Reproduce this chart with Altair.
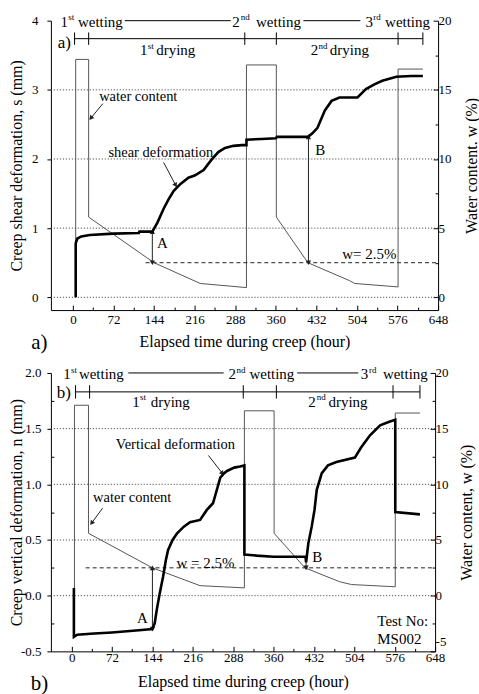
import altair as alt
import pandas as pd

FONT = "Liberation Serif"

# ---------------- panel a: shear deformation (mm) ----------------
TA_S = [5, 5, 8, 15, 30, 72, 117, 118, 141, 150, 161, 170, 179, 191, 205, 216, 232, 245, 258, 270,
        285, 300, 308, 308, 335, 360, 362, 417, 425, 434, 447, 459, 473, 505, 520, 535, 549, 574, 600, 621]
SA = [0, 0.78, 0.85, 0.88, 0.9, 0.92, 0.93, 0.95, 0.95, 1.08, 1.28, 1.42, 1.54, 1.64, 1.73, 1.76, 1.84, 1.98, 2.1, 2.16,
      2.19, 2.2, 2.2, 2.28, 2.29, 2.3, 2.32, 2.32, 2.37, 2.45, 2.7, 2.84, 2.89, 2.89, 3.01, 3.08, 3.13, 3.19, 3.2, 3.2]
# panel a: water content (%)
TA_W = [5, 5, 28, 28, 144, 226, 308, 308, 361, 361, 417, 491, 500, 577, 577, 621]
WA = [0, 17.2, 17.2, 5.8, 2.5, 1.0, 0.7, 16.8, 16.8, 5.8, 2.5, 1.2, 1.0, 0.75, 16.5, 16.5]

# ---------------- panel b: vertical deformation (mm) ----------------
TB_N = [4, 4, 10, 40, 72, 120, 144, 148, 152, 157, 163, 168, 172, 180, 188, 200, 211, 229, 241, 252,
        260, 265, 272, 277, 290, 300, 308, 308, 330, 360, 417, 418, 422, 428, 433, 437, 446, 457, 472, 505,
        516, 532, 550, 565, 577, 577, 621]
NB = [0.07, -0.37, -0.35, -0.34, -0.33, -0.31, -0.30, -0.25, -0.12, 0.02, 0.17, 0.32, 0.41, 0.5, 0.56, 0.62, 0.66, 0.68, 0.77, 0.83,
      0.97, 1.06, 1.1, 1.12, 1.15, 1.16, 1.17, 0.37, 0.36, 0.35, 0.35, 0.3, 0.47, 0.62, 0.77, 0.95, 1.1, 1.17, 1.2, 1.24,
      1.33, 1.44, 1.53, 1.56, 1.58, 0.75, 0.73]
TB_W = [5, 5, 30, 30, 144, 229, 308, 308, 361, 361, 416, 478, 499, 577, 577, 621]
WB = [0, 17.1, 17.1, 5.6, 2.5, 0.9, 0.7, 16.6, 16.6, 5.6, 2.5, 1.25, 1.0, 0.8, 16.4, 16.4]

# ---------------- ticks / reference lines ----------------
X_TICKS = list(range(0, 649, 36))
YA_TICKS = [i * 0.5 for i in range(9)]
YA_R_TICKS = [i * 2.5 for i in range(9)]
YB_TICKS = [-0.5 + i * 0.25 for i in range(11)]
YB_R_TICKS = [-5 + i * 2.5 for i in range(11)]
GRID_A = [0, 1, 2, 3]
GRID_B = [0, 0.5, 1.0, 1.5]

# ---------------- annotations panel a ----------------
TOP_A_T = [-22, 9, 283, 325, 519, 554]
TOP_TXT = ["1", "wetting", "2", "wetting", "3", "wetting"]
TOP_A_V = 3.985
SUP_A_T = [-8, 298, 533]
SUP_TXT = ["st", "nd", "rd"]
SUP_A_V = 4.05
TOPLINE_A_T = [92, 409]
TOPLINE_A_T2 = [280, 510]
TOPLINE_A_V = 4.0
DRY_A_LINE = [3, 621]
DRY_A_V = 3.74
DRY_A_TICKS = [3, 28, 305, 361, 577, 621]
DRY_A_TICK_V = [3.65, 3.83]
DRY_A_T = [119, 148, 422, 456]
DRY_TXT = ["1", "drying", "2", "drying"]
DRY_A_TV = 3.58
DRY_SUP_A_T = [133, 436]
DRY_SUP_TXT = ["st", "nd"]
DRY_SUP_A_V = 3.64
NOTE_A_T = [116, 156]
NOTE_A_V = [2.90, 2.08]
NOTE_A_TXT = ["water content", "shear deformation"]
AB_A_T = [159, 439, 526]
AB_A_V = [0.78, 2.13, 0.63]
AB_A_TXT = ["A", "B", "w= 2.5%"]
ARR_A_T = [53.1, 161, 141, 418]
ARR_A_T2 = [31.9, 182.4, 141, 418]
ARR_A_V = [2.80, 1.95, 0.5, 0.5]
ARR_A_V2 = [2.59, 1.62, 0.95, 2.32]
HEAD_A_T = [31.9, 182.4, 141, 141, 418, 418]
HEAD_A_V = [2.59, 1.62, 0.95, 0.5, 2.32, 0.5]
HEAD_A_ANG = [219, 152, 0, 180, 0, 180]
DASH_A = [129, 648]
DASH_A_V = 0.5
LAB_A_IN = (-27, 3.68)
LAB_A_OUT = (-74, -0.66)

# ---------------- annotations panel b ----------------
TOP_B_T = [-15, 13, 279.5, 317, 515.5, 555]
TOP_B_V = 1.99
SUP_B_T = [-1, 294, 530]
SUP_B_V = 2.03
TOPLINE_B_T = [101, 402]
TOPLINE_B_T2 = [271, 511]
TOPLINE_B_V = 2.0
DRY_B_LINE = [7, 621]
DRY_B_V = 1.83
DRY_B_TICKS = [7, 32, 306, 365, 573, 621]
DRY_B_TICK_V = [1.77, 1.89]
DRY_B_T = [108, 141, 422, 458]
DRY_B_TV = 1.74
DRY_SUP_B_T = [122, 437]
DRY_SUP_B_V = 1.78
NOTE_B_T = [185, 108]
NOTE_B_V = [1.35, 0.88]
NOTE_B_TXT = ["Vertical deformation", "water content"]
AB_B_T = [126, 438, 238.5]
AB_B_V = [-0.2, 0.35, 0.29]
AB_B_TXT = ["A", "B", "w = 2.5%"]
TEST_T = [545, 545]
TEST_V = [-0.23, -0.39]
TEST_TXT = ["Test No:", "MS002"]
ARR_B_T = [55.2, 243.9, 144, 418]
ARR_B_T2 = [35.6, 268.8, 144, 418]
ARR_B_V = [0.786, 1.259, 0.25, 0.35]
ARR_B_V2 = [0.652, 1.098, -0.3, 0.25]
HEAD_B_T = [35.6, 268.8, 144, 144, 418]
HEAD_B_V = [0.652, 1.098, 0.25, -0.3, 0.25]
HEAD_B_ANG = [216, 142, 0, 180, 180]
DASH_B = [25, 648]
DASH_B_V = 0.25
LAB_B_IN = (-26.7, 1.82)
LAB_B_OUT = (-73, -0.79)

XTITLE = "Elapsed time during creep (hour)"


def build(c):
    xs = alt.Scale(domain=c["xdom"], nice=False, zero=False)
    xax = alt.Axis(values=X_TICKS, labelExpr="datum.value % 72 === 0 ? datum.label : ''",
                   tickSize={"condition": {"test": "datum.value % 72 === 0", "value": -5}, "value": -3},
                   labelOverlap=False, labelFlush=False, grid=False, title=XTITLE,
                   titlePadding=c["xtp"], labelPadding=c["xlp"])

    def X(f):
        return alt.X(f, type="quantitative", scale=xs, axis=xax)

    ys = alt.Scale(domain=c["ydom"], nice=False, zero=False)
    lt = c["ltest"]
    yax = alt.Axis(orient="left", values=c["yticks"], format=c["yfmt"],
                   labelExpr="(" + lt + ") ? replace(datum.label, '\u2212', '-') : ''",
                   tickSize={"condition": {"test": lt, "value": 4}, "value": -3},
                   labelOverlap=False, labelFlush=False, grid=False, title=c["ytitle"],
                   titleX=-34, titleY=c["h"] / 2, titleAngle=270, titleBaseline="middle",
                   labelPadding=c["ylp"])

    def Y(f):
        return alt.Y(f, type="quantitative", scale=ys, axis=yax)

    rs = alt.Scale(domain=c["rdom"], nice=False, zero=False)
    rt = "datum.value % 5 === 0"
    rax = alt.Axis(orient="right", values=c["rticks"], format="d",
                   labelExpr="(" + rt + ") ? replace(datum.label, '\u2212', '-') : ''",
                   tickSize={"condition": {"test": rt, "value": -5}, "value": -3},
                   labelBaseline={"condition": {"test": "datum.value < 0", "value": "bottom"}, "value": "middle"},
                   labelOffset={"condition": {"test": "datum.value < 0", "value": -3}, "value": 0},
                   labelOverlap=False, labelFlush=False, grid=False, title=c["rtitle"],
                   titleX=c["rtx"], titleY=c["h"] / 2, titleAngle=270, titleBaseline="middle",
                   labelPadding=5)

    def text_layer(t, v, txt, size, align="center"):
        df = pd.DataFrame({"t": t, "v": v, "txt": txt})
        return alt.Chart(df).mark_text(font=FONT, fontSize=size, align=align, baseline="middle",
                                       color="black").encode(x=X("t"), y=Y("v"), text="txt:N")

    layers = []
    layers.append(alt.Chart(pd.DataFrame({"v": c["grid"]})).mark_rule(
        strokeDash=[1, 2], color="#333", strokeWidth=1).encode(y=Y("v")))
    layers.append(alt.Chart(pd.DataFrame({"t": [c["dash"][0]], "t2": [c["dash"][1]], "v": [c["dash_v"]]})).mark_rule(
        strokeDash=[4, 3], color="#222", strokeWidth=1).encode(x=X("t"), x2="t2", y=Y("v")))
    # top wetting lines
    layers.append(alt.Chart(pd.DataFrame({"t": c["tl_t"], "t2": c["tl_t2"], "v": [c["tl_v"]] * 2})).mark_rule(
        color="black", strokeWidth=1).encode(x=X("t"), x2="t2", y=Y("v")))
    # drying line and ticks
    layers.append(alt.Chart(pd.DataFrame({"t": [c["dry_line"][0]], "t2": [c["dry_line"][1]], "v": [c["dry_v"]]})).mark_rule(
        color="black", strokeWidth=1).encode(x=X("t"), x2="t2", y=Y("v")))
    n = len(c["dry_ticks"])
    layers.append(alt.Chart(pd.DataFrame({"t": c["dry_ticks"], "v": [c["dry_tick_v"][0]] * n,
                                          "v2": [c["dry_tick_v"][1]] * n})).mark_rule(
        color="black", strokeWidth=1).encode(x=X("t"), y=Y("v"), y2="v2"))
    # arrows
    layers.append(alt.Chart(pd.DataFrame({"t": c["arr_t"], "t2": c["arr_t2"], "v": c["arr_v"], "v2": c["arr_v2"]})).mark_rule(
        color="#222", strokeWidth=1).encode(x=X("t"), x2="t2", y=Y("v"), y2="v2"))
    layers.append(alt.Chart(pd.DataFrame({"t": c["head_t"], "v": c["head_v"], "ang": c["head_ang"]})).mark_point(
        shape="triangle-up", filled=True, size=28, color="#222", opacity=1).encode(
        x=X("t"), y=Y("v"), angle=alt.Angle("ang:Q", scale=None)))
    # texts
    layers.append(text_layer(c["top_t"], [c["top_v"]] * 6, TOP_TXT, 15, "left"))
    layers.append(text_layer(c["sup_t"], [c["sup_v"]] * 3, SUP_TXT, 9, "left"))
    layers.append(text_layer(c["dry_t"], [c["dry_tv"]] * 4, DRY_TXT, 15, "left"))
    layers.append(text_layer(c["dsup_t"], [c["dsup_v"]] * 2, DRY_SUP_TXT, 9, "left"))
    layers.append(text_layer(c["note_t"], c["note_v"], c["note_txt"], 14.5))
    layers.append(text_layer(c["ab_t"], c["ab_v"], c["ab_txt"], 15))
    layers.append(text_layer([c["lab_in"][0]], [c["lab_in"][1]], [c["lab"]], 17, "left"))
    layers.append(text_layer([c["lab_out"][0]], [c["lab_out"][1]], [c["lab"]], 21, "left"))
    if c.get("test_t"):
        layers.append(text_layer(c["test_t"], c["test_v"], TEST_TXT, 15, "left"))
    # main deformation curve
    layers.append(alt.Chart(pd.DataFrame({"t": c["st"], "v": c["sv"], "i": list(range(len(c["st"])))})).mark_line(
        color="black", strokeWidth=2.6).encode(x=X("t"), y=Y("v"), order="i:Q"))

    water = alt.Chart(pd.DataFrame({"t": c["wt"], "w": c["wv"], "i": list(range(len(c["wt"])))})).mark_line(
        color="#555", strokeWidth=1).encode(
        x=X("t"), y=alt.Y("w", type="quantitative", scale=rs, axis=rax), order="i:Q")

    return alt.layer(water, alt.layer(*layers)).resolve_scale(y="independent").properties(
        width=c["w"], height=c["h"])


pa = build(dict(
    xdom=[-39, 648], ydom=[-0.185, 4], rdom=[-0.925, 20], w=388, h=290,
    yticks=YA_TICKS, rticks=YA_R_TICKS, yfmt="d", ltest="datum.value % 1 === 0",
    ytitle="Creep shear deformation, s (mm)", rtitle="Water content. w (%)", rtx=33,
    xtp=5, xlp=8, ylp=9, grid=GRID_A, dash=DASH_A, dash_v=DASH_A_V,
    tl_t=TOPLINE_A_T, tl_t2=TOPLINE_A_T2, tl_v=TOPLINE_A_V,
    dry_line=DRY_A_LINE, dry_v=DRY_A_V, dry_ticks=DRY_A_TICKS, dry_tick_v=DRY_A_TICK_V,
    arr_t=ARR_A_T, arr_t2=ARR_A_T2, arr_v=ARR_A_V, arr_v2=ARR_A_V2,
    head_t=HEAD_A_T, head_v=HEAD_A_V, head_ang=HEAD_A_ANG,
    top_t=TOP_A_T, top_v=TOP_A_V, sup_t=SUP_A_T, sup_v=SUP_A_V,
    dry_t=DRY_A_T, dry_tv=DRY_A_TV, dsup_t=DRY_SUP_A_T, dsup_v=DRY_SUP_A_V,
    note_t=NOTE_A_T, note_v=NOTE_A_V, note_txt=NOTE_A_TXT,
    ab_t=AB_A_T, ab_v=AB_A_V, ab_txt=AB_A_TXT,
    lab="a)", lab_in=LAB_A_IN, lab_out=LAB_A_OUT,
    st=TA_S, sv=SA, wt=TA_W, wv=WA))

pb = build(dict(
    xdom=[-37, 648], ydom=[-0.5, 2.0], rdom=[-5, 20], w=385, h=279,
    yticks=YB_TICKS, rticks=YB_R_TICKS, yfmt=".1f", ltest="datum.value % 0.5 === 0",
    ytitle="Creep vertical deformation, n (mm)", rtitle="Water content, w (%)", rtx=31,
    xtp=7, xlp=5, ylp=6, grid=GRID_B, dash=DASH_B, dash_v=DASH_B_V,
    tl_t=TOPLINE_B_T, tl_t2=TOPLINE_B_T2, tl_v=TOPLINE_B_V,
    dry_line=DRY_B_LINE, dry_v=DRY_B_V, dry_ticks=DRY_B_TICKS, dry_tick_v=DRY_B_TICK_V,
    arr_t=ARR_B_T, arr_t2=ARR_B_T2, arr_v=ARR_B_V, arr_v2=ARR_B_V2,
    head_t=HEAD_B_T, head_v=HEAD_B_V, head_ang=HEAD_B_ANG,
    top_t=TOP_B_T, top_v=TOP_B_V, sup_t=SUP_B_T, sup_v=SUP_B_V,
    dry_t=DRY_B_T, dry_tv=DRY_B_TV, dsup_t=DRY_SUP_B_T, dsup_v=DRY_SUP_B_V,
    note_t=NOTE_B_T, note_v=NOTE_B_V, note_txt=NOTE_B_TXT,
    ab_t=AB_B_T, ab_v=AB_B_V, ab_txt=AB_B_TXT,
    lab="b)", lab_in=LAB_B_IN, lab_out=LAB_B_OUT,
    test_t=TEST_T, test_v=TEST_V,
    st=TB_N, sv=NB, wt=TB_W, wv=WB))

chart = alt.vconcat(pa, pb, spacing=63, bounds="flush").properties(
    padding={"left": 8, "top": 12, "right": 0, "bottom": 0}
).configure(font=FONT).configure_view(stroke=None).configure_axis(
    labelFont=FONT, titleFont=FONT, labelFontSize=13, titleFontSize=16, titleFontWeight="normal",
    labelColor="black", titleColor="black", domainColor="black", tickColor="black",
    domainWidth=1, tickWidth=1)

chart.save("out.html", embed_options={"renderer": "svg", "actions": False})
